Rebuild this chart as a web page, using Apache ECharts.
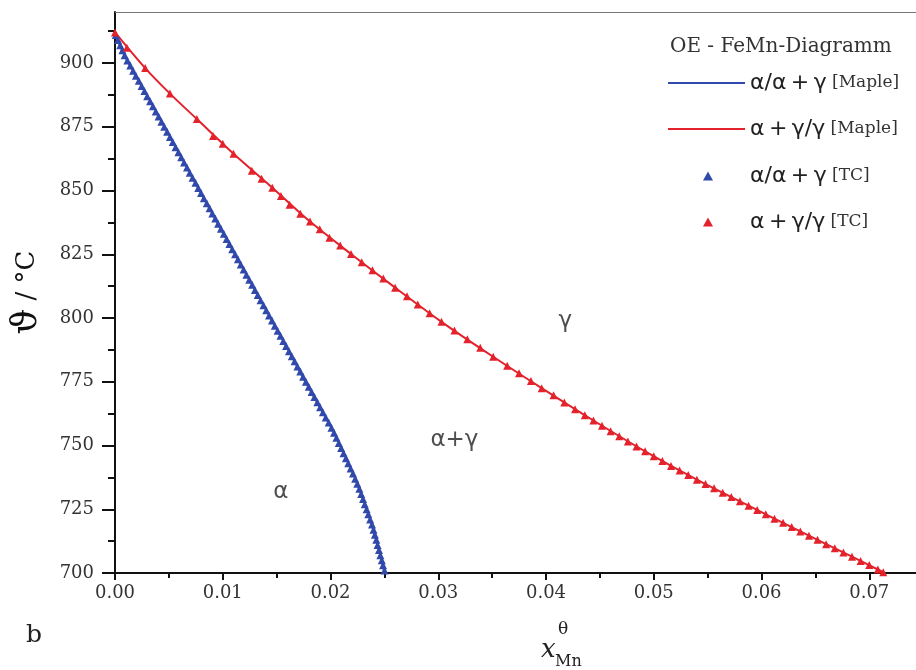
<!DOCTYPE html>
<html lang="de">
<head>
<meta charset="UTF-8">
<title>OE - FeMn-Diagramm</title>
<script src="https://cdn.jsdelivr.net/npm/echarts@6/dist/echarts.min.js"></script>
<style>
    html, body { margin: 0; padding: 0; background: #fff; }
    #chart { width: 916px; height: 670px; }
</style>
</head>
<body>
<div id="chart"></div>
<script>
// Phasengrenzen aus Maple (Linien), [x_Mn, Temperatur in °C]
var mapleAlpha = [
    [0, 911.7], [0.0009, 902.7], [0.0033, 885], [0.0058, 866], [0.0077, 851],
    [0.0110, 826], [0.0137, 805.7], [0.0161, 787.3], [0.0176, 775.5], [0.0202, 756],
    [0.0221, 739.1], [0.0227, 732.5], [0.0239, 718], [0.0250, 700.4]
];
var mapleGamma = [
    [0, 912], [0.0028, 898], [0.0051, 888], [0.0076, 878], [0.0110, 864.4],
    [0.0146, 851.1], [0.0181, 837.8], [0.0219, 825.1], [0.0260, 811.9], [0.0303, 798.5],
    [0.0351, 784.8], [0.0396, 772.5], [0.0444, 759.8], [0.0492, 747.7], [0.0540, 736.6],
    [0.0588, 726.4], [0.0636, 716.3], [0.0684, 706.4], [0.0713, 700.3]
];

// Thermo-Calc Punkte (Dreiecke)
var tcAlpha = [
    [0.00007, 911], [0.00028, 909], [0.00049, 907], [0.00069, 905], [0.0009, 903],
    [0.00115, 901], [0.00142, 899], [0.00168, 897], [0.00194, 895], [0.00221, 893],
    [0.00247, 891], [0.00273, 889], [0.00299, 887], [0.00326, 885], [0.00352, 883],
    [0.00378, 881], [0.00405, 879], [0.00431, 877], [0.00457, 875], [0.00484, 873],
    [0.0051, 871], [0.00536, 869], [0.00562, 867], [0.00589, 865], [0.00615, 863],
    [0.00641, 861], [0.00668, 859], [0.00694, 857], [0.0072, 855], [0.00747, 853],
    [0.00773, 851], [0.00799, 849], [0.00825, 847], [0.00852, 845], [0.00878, 843],
    [0.00904, 841], [0.00931, 839], [0.00957, 837], [0.00983, 835], [0.0101, 833],
    [0.01036, 831], [0.01062, 829], [0.01088, 827], [0.01115, 825], [0.01141, 823],
    [0.01167, 821], [0.01194, 819], [0.0122, 817], [0.01246, 815], [0.01273, 813],
    [0.01299, 811], [0.01325, 809], [0.01351, 807], [0.01378, 805], [0.01404, 803],
    [0.0143, 801], [0.01457, 799], [0.01483, 797], [0.01509, 795], [0.01536, 793],
    [0.01562, 791], [0.01588, 789], [0.01615, 787], [0.01641, 785], [0.01667, 783],
    [0.01693, 781], [0.0172, 779], [0.01746, 777], [0.01772, 775], [0.01799, 773],
    [0.01825, 771], [0.01851, 769], [0.01878, 767], [0.01904, 765], [0.0193, 763],
    [0.01956, 761], [0.01983, 759], [0.02009, 757], [0.02033, 755], [0.02055, 753],
    [0.02077, 751], [0.02099, 749], [0.02121, 747], [0.02143, 745], [0.02165, 743],
    [0.02187, 741], [0.02209, 739], [0.02229, 737], [0.02249, 735], [0.02268, 733],
    [0.02285, 731], [0.02302, 729], [0.02318, 727], [0.02335, 725], [0.02351, 723],
    [0.02368, 721], [0.02385, 719], [0.02399, 717], [0.02412, 715], [0.02425, 713],
    [0.02437, 711], [0.0245, 709], [0.02463, 707], [0.02476, 705], [0.02488, 703],
    [0.02501, 701]
];
var tcGamma = [
    [0, 912], [0.0011, 906], [0.0028, 898], [0.0051, 888], [0.0076, 878],
    [0.0091, 871.4], [0.0100, 868.3], [0.0110, 864.4], [0.0127, 857.7], [0.0136, 854.6],
    [0.0146, 851.1], [0.0154, 847.8], [0.0162, 844.4], [0.0172, 840.9], [0.0181, 837.8],
    [0.0190, 834.8], [0.0199, 831.5], [0.0209, 828.4], [0.0219, 825.1], [0.0229, 821.9],
    [0.0239, 818.7], [0.0249, 815.5], [0.0260, 811.9], [0.0271, 808.5], [0.0281, 805.3],
    [0.0292, 801.9], [0.0303, 798.5], [0.0315, 795.1], [0.0327, 791.7], [0.0339, 788.3],
    [0.0351, 784.8], [0.0364, 781.3], [0.0375, 778.3], [0.0386, 775.3], [0.0396, 772.5],
    [0.0407, 769.7], [0.0417, 766.9], [0.0427, 764.2], [0.0436, 761.9], [0.0444, 759.8],
    [0.0452, 757.7], [0.0460, 755.6], [0.0468, 753.6], [0.0476, 751.6], [0.0484, 749.6],
    [0.0492, 747.7], [0.0500, 745.8], [0.0508, 743.9], [0.0516, 742.0], [0.0524, 740.2],
    [0.0532, 738.4], [0.0540, 736.6], [0.0548, 734.9], [0.0556, 733.2], [0.0564, 731.5],
    [0.0572, 729.8], [0.0580, 728.1], [0.0588, 726.4], [0.0596, 724.7], [0.0604, 723.0],
    [0.0612, 721.3], [0.0620, 719.7], [0.0628, 718.0], [0.0636, 716.3], [0.0644, 714.6],
    [0.0652, 713.0], [0.0660, 711.3], [0.0668, 709.7], [0.0676, 708.0], [0.0684, 706.4],
    [0.0692, 704.7], [0.0700, 703.1], [0.0708, 701.4], [0.0713, 700.3]
];

// Phasenbereiche: [Text, x_Mn, Temperatur]
var regionLabels = [
    ['α', 0.0154, 731.7],
    ['α+γ', 0.0315, 752],
    ['γ', 0.0418, 799]
];
var yTicks = [700, 725, 750, 775, 800, 825, 850, 875, 900];
var xTicks = [0, 0.01, 0.02, 0.03, 0.04, 0.05, 0.06, 0.07];
var seriesNames = ['α/α+γ [Maple]', 'α+γ/γ [Maple]', 'α/α+γ [TC]', 'α+γ/γ [TC]'];

var blue = '#3049ab';
var red = '#e3222b';
var serif = 'DejaVu Serif';

function legendText(name, padded) {
    var p = name.split(' ');
    var g = p[0].replace('+', '\u2009+\u2009');
    return '{' + (padded ? 'gp' : 'g') + '|' + g + '}{s| ' + p[1] + '}';
}
var legendRich = {
    g: { fontFamily: 'DejaVu Sans', fontSize: 22, color: '#222' },
    gp: { fontFamily: 'DejaVu Sans', fontSize: 22, color: '#222', padding: [0, 0, 0, 32] },
    s: { fontFamily: serif, fontSize: 17, color: '#333' }
};

var mychart = echarts.init(document.getElementById('chart'));
var option = {
    animation: false,
    title: {
        text: 'OE - FeMn-Diagramm',
        left: 665,
        top: 32,
        textStyle: { fontFamily: serif, fontSize: 20, fontWeight: 'normal', color: '#333' }
    },
    legend: [
        {
            data: [seriesNames[0], seriesNames[1]],
            orient: 'vertical',
            left: 663,
            top: 67,
            icon: 'rect',
            itemWidth: 77,
            itemHeight: 2,
            itemGap: 24,
            formatter: function (name) { return legendText(name, false); },
            textStyle: { rich: legendRich }
        },
        {
            data: [seriesNames[2], seriesNames[3]],
            orient: 'vertical',
            left: 698,
            top: 160,
            itemWidth: 10,
            itemHeight: 9,
            itemGap: 24,
            formatter: function (name) { return legendText(name, true); },
            textStyle: { rich: legendRich }
        }
    ],
    grid: {
        left: 115,
        right: -61,
        top: 12,
        bottom: 97,
        outerBoundsMode: 'none'
    },
    xAxis: {
        type: 'value',
        min: 0,
        max: 0.08,
        interval: 0.01,
        axisLine: { lineStyle: { color: '#111', width: 2 } },
        axisTick: { length: 7, lineStyle: { color: '#111', width: 2 } },
        minorTick: { show: true, splitNumber: 2, length: 5, lineStyle: { color: '#111', width: 2 } },
        splitLine: { show: false },
        axisLabel: {
            margin: 11,
            customValues: xTicks,
            fontFamily: serif,
            fontSize: 18,
            color: '#333',
            formatter: function (v) { return v.toFixed(2); }
        }
    },
    yAxis: {
        type: 'value',
        min: 700,
        max: 920,
        interval: 25,
        name: '{a|ϑ}{b| / °C}',
        nameLocation: 'middle',
        nameRotate: 90,
        nameGap: 70,
        nameTextStyle: {
            rich: {
                a: { fontFamily: serif, fontSize: 36, color: '#111' },
                b: { fontFamily: serif, fontSize: 26, color: '#111' }
            }
        },
        axisLine: { lineStyle: { color: '#111', width: 2 } },
        axisTick: { length: 13, customValues: yTicks, lineStyle: { color: '#111', width: 2 } },
        minorTick: { show: true, splitNumber: 2, length: 7, lineStyle: { color: '#111', width: 2 } },
        splitLine: { show: false },
        axisLabel: {
            margin: 21,
            customValues: yTicks,
            fontFamily: serif,
            fontSize: 18,
            color: '#333'
        }
    },
    graphic: [
        { type: 'text', left: 558, top: 621, style: { text: 'θ', fontFamily: serif, fontSize: 17, fill: '#222' } },
        { type: 'text', left: 541, top: 637, style: { text: 'x', fontFamily: serif, fontStyle: 'italic', fontSize: 26, fill: '#222' } },
        { type: 'text', left: 555, top: 654, style: { text: 'Mn', fontFamily: serif, fontSize: 16, fill: '#222' } },
        { type: 'text', left: 26, top: 623, style: { text: 'b', fontFamily: serif, fontSize: 25, fill: '#222' } }
    ],
    series: [
        {
            name: seriesNames[0],
            type: 'line',
            data: mapleAlpha,
            symbol: 'none',
            smooth: 0.3,
            lineStyle: { color: blue, width: 2 },
            itemStyle: { color: blue },
            z: 2
        },
        {
            name: seriesNames[1],
            type: 'line',
            data: mapleGamma,
            symbol: 'none',
            smooth: 0.3,
            lineStyle: { color: red, width: 2 },
            itemStyle: { color: red },
            z: 2,
            markLine: {
                silent: true,
                symbol: 'none',
                label: { show: false },
                lineStyle: { color: '#777', width: 1, type: 'solid' },
                data: [{ yAxis: 920 }]
            }
        },
        {
            name: seriesNames[2],
            type: 'scatter',
            data: tcAlpha,
            symbol: 'triangle',
            symbolSize: 8,
            itemStyle: { color: blue, opacity: 1 },
            z: 3
        },
        {
            name: seriesNames[3],
            type: 'scatter',
            data: tcGamma,
            symbol: 'triangle',
            symbolSize: 8,
            itemStyle: { color: red, opacity: 1 },
            z: 3
        },
        {
            name: 'Phasen',
            type: 'scatter',
            symbolSize: 0,
            silent: true,
            data: regionLabels.map(function (r) { return { name: r[0], value: [r[1], r[2]] }; }),
            label: {
                show: true,
                position: 'inside',
                formatter: '{b}',
                fontFamily: 'DejaVu Sans',
                fontSize: 23,
                color: '#222'
            }
        }
    ]
};
mychart.setOption(option);
</script>
</body>
</html>
